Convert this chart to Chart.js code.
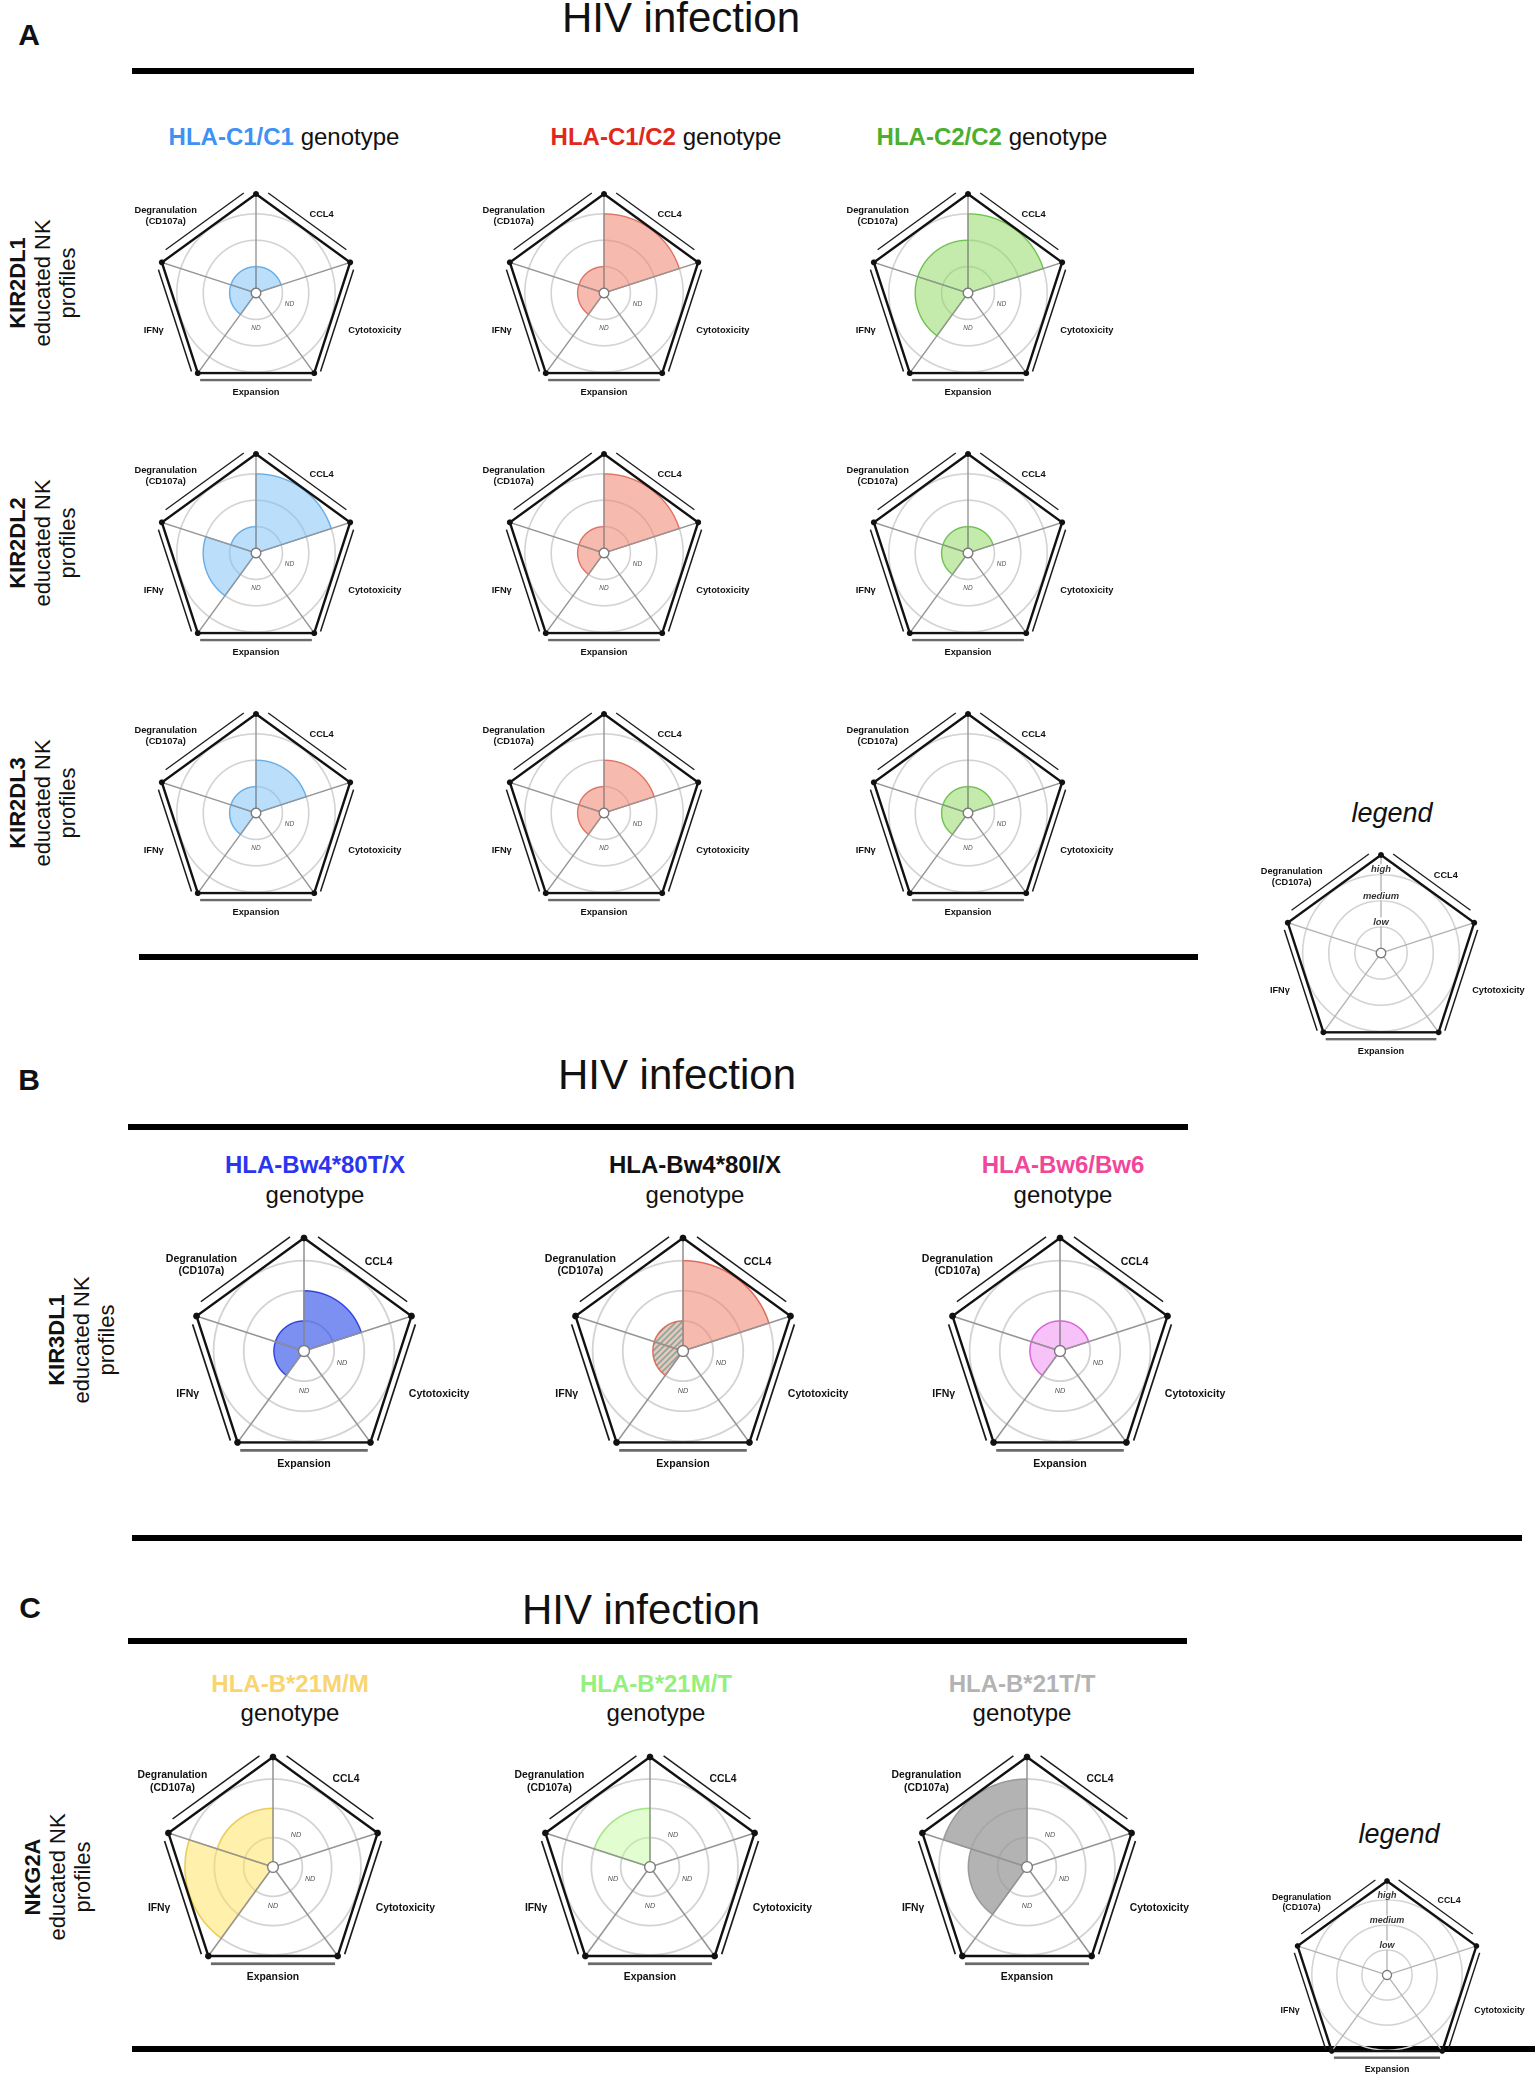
<!DOCTYPE html>
<html>
<head>
<meta charset="utf-8">
<script src="https://cdn.jsdelivr.net/npm/chart.js@4.4.1/dist/chart.umd.min.js"></script>
<style>
  html, body { margin: 0; padding: 0; background: #fff; }
  #page { position: relative; width: 1535px; height: 2077px; overflow: hidden;
          font-family: "Liberation Sans", Arial, Helvetica, sans-serif; color: #111; }
  .t { position: absolute; white-space: nowrap; line-height: 1; transform: translate(-50%, -50%); }
  .rule { position: absolute; height: 6px; background: #000; }
  .panel { position: absolute; }
  .panel canvas { position: absolute; left: 0; top: 0; }
</style>
</head>
<body>
<div id="page"></div>
<script>
// Axes clockwise from the top spoke; each wedge fills the sector that follows its spoke
const axes = ['CCL4', 'Cytotoxicity', 'Expansion', 'IFNγ', 'Degranulation (CD107a)'];
const levels = ['ND', 'low', 'medium', 'high'];   // 0 = not detected
const frame = [3.75, 3.75, 3.75, 3.75, 3.75];     // outer pentagon, just past "high"
const hub = [0, 0, 0, 0, 0];

// A: KIR2DL1/2/3 educated NK, by HLA-C genotype (C1/C1, C1/C2, C2/C2)
const genotypesA = ['HLA-C1/C1', 'HLA-C1/C2', 'HLA-C2/C2'];
const receptorsA = ['KIR2DL1', 'KIR2DL2', 'KIR2DL3'];
const kir2dl1 = [[1, 0, 0, 1, 1], [3, 0, 0, 1, 1], [3, 0, 0, 2, 2]];
const kir2dl2 = [[3, 0, 0, 2, 1], [3, 0, 0, 1, 1], [1, 0, 0, 1, 1]];
const kir2dl3 = [[2, 0, 0, 1, 1], [2, 0, 0, 1, 1], [1, 0, 0, 1, 1]];

// B: KIR3DL1 educated NK, by HLA-Bw4/Bw6 genotype
const genotypesB = ['HLA-Bw4*80T/X', 'HLA-Bw4*80I/X', 'HLA-Bw6/Bw6'];
const kir3dl1 = [[2, 0, 0, 1, 1], [3, 0, 0, 1, 1], [1, 0, 0, 1, 1]];
const hatchedB = [[], [3, 4], []];   // striped sectors of the 80I/X profile

// C: NKG2A educated NK, by HLA-B -21 genotype
const genotypesC = ['HLA-B*21M/M', 'HLA-B*21M/T', 'HLA-B*21T/T'];
const nkg2a = [[0, 0, 0, 3, 2], [0, 0, 0, 0, 2], [0, 0, 0, 2, 3]];

// colours
const lookA = [
  { title: '#3f91f3', fill: 'rgba(120,190,245,0.5)', line: 'rgba(85,170,240,0.9)' },
  { title: '#e0291c', fill: 'rgba(238,130,110,0.55)', line: 'rgba(232,100,80,0.9)' },
  { title: '#4caf2f', fill: 'rgba(140,215,90,0.5)', line: 'rgba(95,195,60,0.9)' }
];
const lookB = [
  { title: '#2b35f0', fill: 'rgba(35,70,230,0.6)', line: 'rgba(35,55,232,0.95)' },
  { title: '#111111', fill: 'rgba(238,130,110,0.55)', line: 'rgba(232,90,70,0.9)' },
  { title: '#f0479a', fill: 'rgba(238,120,238,0.45)', line: 'rgba(225,80,225,0.9)' }
];
const lookC = [
  { title: '#f8d570', fill: 'rgba(255,225,90,0.5)', line: 'rgba(242,205,60,0.95)' },
  { title: '#94f07c', fill: 'rgba(190,250,150,0.45)', line: 'rgba(150,238,115,0.95)' },
  { title: '#b3b3b3', fill: 'rgba(150,150,150,0.72)', line: 'rgba(145,145,145,0.8)' }
];

// pentagon edge widths and the bracket strokes beside each edge: [offset, t0, t1, width, colour]
const edgeWidth = [2, 2.6, 3.2, 2.6, 2];
const bracketStyle = [
  [[8, 0.08, 0.91, 1.3, '#1a1a1a']],
  [[5.5, 0.05, 0.97, 1.5, '#1a1a1a']],
  [[7, 0.02, 0.98, 2.4, '#6a6a6a']],
  [[5.5, 0.03, 0.95, 1.5, '#1a1a1a']],
  [[8, 0.09, 0.92, 1.3, '#1a1a1a']]
];

const page = document.getElementById('page');

function text(x, y, html, css) {
  const d = document.createElement('div');
  d.className = 't';
  d.innerHTML = html;
  d.style.left = x + 'px';
  d.style.top = y + 'px';
  Object.assign(d.style, css || {});
  page.appendChild(d);
  return d;
}

function rule(x0, x1, y) {
  const d = document.createElement('div');
  d.className = 'rule';
  d.style.left = x0 + 'px';
  d.style.width = (x1 - x0) + 'px';
  d.style.top = (y - 3) + 'px';
  page.appendChild(d);
}

function stripes() {
  const c = document.createElement('canvas');
  c.width = 6; c.height = 6;
  const g = c.getContext('2d');
  g.fillStyle = 'rgba(240,160,140,0.6)';
  g.fillRect(0, 0, 6, 6);
  g.strokeStyle = 'rgba(70,160,150,0.95)';
  g.lineWidth = 1.3;
  g.beginPath();
  g.moveTo(-1, 7); g.lineTo(7, -1);
  g.moveTo(-1, 1); g.lineTo(1, -1);
  g.moveTo(5, 7); g.lineTo(7, 5);
  g.stroke();
  return g.createPattern(c, 'repeat');
}

// brackets drawn beside the pentagon edges
const edgeMarks = {
  id: 'edgeMarks',
  afterDatasetsDraw(chart) {
    const s = chart.scales.r, g = chart.ctx, n = axes.length;
    const k = s.drawingArea / 99;
    g.save();
    for (let i = 0; i < n; i++) {
      const a = s.getPointPositionForValue(i, frame[i]);
      const b = s.getPointPositionForValue((i + 1) % n, frame[(i + 1) % n]);
      const mx = (a.x + b.x) / 2 - s.xCenter, my = (a.y + b.y) / 2 - s.yCenter;
      const ml = Math.hypot(mx, my), nx = mx / ml, ny = my / ml;
      bracketStyle[i].forEach(([off, t0, t1, w, col]) => {
        g.beginPath();
        g.strokeStyle = col;
        g.lineWidth = w * k;
        g.moveTo(a.x + (b.x - a.x) * t0 + nx * off * k, a.y + (b.y - a.y) * t0 + ny * off * k);
        g.lineTo(a.x + (b.x - a.x) * t1 + nx * off * k, a.y + (b.y - a.y) * t1 + ny * off * k);
        g.stroke();
      });
    }
    g.restore();
  }
};

// unit = pixels per level (low / medium / high rings)
function panel(cx, cy, unit, values, look, hatched, isLegend) {
  const R = Math.round(unit * frame[0]);
  const L = unit * 3.6;            // reference radius for label placement
  const pad = Math.round(R * 0.25);
  const size = 2 * (R + pad);
  const ox = cx - R - pad, oy = cy - R - pad;
  const box = document.createElement('div');
  box.className = 'panel';
  box.style.left = ox + 'px';
  box.style.top = oy + 'px';
  box.style.width = size + 'px';
  box.style.height = size + 'px';
  page.appendChild(box);
  const mk = () => {
    const c = document.createElement('canvas');
    c.width = size; c.height = size;
    box.appendChild(c);
    return c;
  };
  const cPolar = mk(), cFrame = mk();
  const k = L / 95;
  const base = {
    responsive: false, animation: false, events: [], devicePixelRatio: 2,
    layout: { padding: pad },
    plugins: { legend: { display: false }, tooltip: { enabled: false } }
  };
  const rBase = { min: 0, max: frame[0], ticks: { display: false, stepSize: 1 }, pointLabels: { display: false } };

  new Chart(cPolar, {
    type: 'polarArea',
    data: {
      labels: axes,
      datasets: [{
        data: values,
        backgroundColor: values.map((v, i) => hatched.includes(i) ? stripes() : look.fill),
        borderColor: look.line,
        borderWidth: 1.2
      }]
    },
    options: {
      ...base,
      scales: { r: { ...rBase, angleLines: { display: false },
        grid: { circular: true, lineWidth: 1.6 * k,
                color: c => (c.tick && c.tick.value > 3) ? 'rgba(0,0,0,0)' : '#d3d3d3' } } }
    }
  });

  const top = new Chart(cFrame, {
    type: 'radar',
    data: {
      labels: axes,
      datasets: [
        { data: hub, showLine: false, pointRadius: [4.8 * k, 0, 0, 0, 0],
          pointBackgroundColor: '#fff', pointBorderColor: '#7a7a7a', pointBorderWidth: 1.3, clip: false },
        { data: frame, borderColor: '#111', borderWidth: 2.4, fill: false, backgroundColor: 'rgba(0,0,0,0)',
          pointRadius: 3 * k, pointBackgroundColor: '#111', pointBorderWidth: 0, clip: false,
          segment: { borderWidth: c => edgeWidth[c.p0DataIndex] * k } }
      ]
    },
    options: {
      ...base,
      scales: { r: { ...rBase, grid: { display: false },
        angleLines: { display: true, color: isLegend ? '#b4b4b4' : '#959595', lineWidth: 1.4 * k } } }
    },
    plugins: [edgeMarks]
  });

  const s = top.scales.r;
  const X = ox + s.xCenter, Y = oy + s.yCenter;
  const fs = 0.098 * L;
  const lab = { fontSize: fs + 'px', fontWeight: 'bold', lineHeight: '1.18', textAlign: 'center' };
  text(X - 0.95 * L, Y - 0.81 * L, 'Degranulation<br>(CD107a)', lab);
  text(X + 0.69 * L, Y - 0.83 * L, axes[0], lab);
  text(X + 0.97 * L, Y + 0.39 * L, axes[1], { ...lab, transform: 'translate(0,-50%)' });
  text(X, Y + 1.04 * L, axes[2], lab);
  text(X - 0.97 * L, Y + 0.39 * L, axes[3], { ...lab, transform: 'translate(-100%,-50%)' });

  if (isLegend) {
    [1, 2, 3].forEach(lv => {
      const p = s.getPointPosition(0, s.getDistanceFromCenterForValue(lv + 0.2));
      text(ox + p.x, oy + p.y, levels[lv], { fontSize: (0.1 * L) + 'px', fontStyle: 'italic',
        fontWeight: 'bold', color: '#333', background: '#fff', padding: '0 1px' });
    });
  } else {
    values.forEach((v, i) => {
      if (v !== 0) return;
      const p = s.getPointPosition(i, s.getDistanceFromCenterForValue(1.33), Math.PI / axes.length);
      text(ox + p.x, oy + p.y, levels[0], { fontSize: (0.068 * L) + 'px', fontStyle: 'italic', color: '#555' });
    });
  }
}

function heading(x, y, letter, hx, hy) {
  text(x, y, letter, { fontSize: '30px', fontWeight: 'bold' });
  text(hx, hy, 'HIV infection', { fontSize: '42px' });
}

function rowLabel(x, y, name) {
  text(x, y, '<b>' + name + '</b><br>educated NK<br>profiles',
       { fontSize: '22px', lineHeight: '25px', textAlign: 'center',
         transform: 'translate(-50%,-50%) rotate(-90deg)' });
}

// ---- Panel A ----
heading(29, 35, 'A', 681, 18);
rule(132, 1194, 71);
rule(139, 1198, 957);
const titleXA = [284, 666, 992];
genotypesA.forEach((g, j) => text(titleXA[j], 137,
  '<b style="color:' + lookA[j].title + '">' + g + '</b> genotype', { fontSize: '24px' }));
const colXA = [256, 604, 968], rowYA = [293, 553, 813];
[kir2dl1, kir2dl2, kir2dl3].forEach((row, r) => {
  rowLabel(42, rowYA[r] - 10, receptorsA[r]);
  row.forEach((vals, j) => panel(colXA[j], rowYA[r], 26.4, vals, lookA[j], [], false));
});
text(1392, 813, 'legend', { fontSize: '27px', fontStyle: 'italic' });
panel(1381, 953, 26.1, hub, lookA[0], [], true);

// ---- Panel B ----
heading(29, 1080, 'B', 677, 1075);
rule(128, 1188, 1127);
rule(132, 1522, 1538);
const titleXB = [315, 695, 1063];
genotypesB.forEach((g, j) => {
  text(titleXB[j], 1165, '<b style="color:' + lookB[j].title + '">' + g + '</b>', { fontSize: '24px' });
  text(titleXB[j], 1195, 'genotype', { fontSize: '24px' });
});
rowLabel(81, 1340, 'KIR3DL1');
const colXB = [304, 683, 1060];
kir3dl1.forEach((vals, j) => panel(colXB[j], 1351, 30, vals, lookB[j], hatchedB[j], false));

// ---- Panel C ----
heading(30, 1608, 'C', 641, 1610);
rule(128, 1187, 1641);
rule(132, 1535, 2049);
const titleXC = [290, 656, 1022];
genotypesC.forEach((g, j) => {
  text(titleXC[j], 1684, '<b style="color:' + lookC[j].title + '">' + g + '</b>', { fontSize: '24px' });
  text(titleXC[j], 1713, 'genotype', { fontSize: '24px' });
});
rowLabel(57, 1877, 'NKG2A');
const colXC = [273, 650, 1027];
nkg2a.forEach((vals, j) => panel(colXC[j], 1867, 29.4, vals, lookC[j], [], false));
text(1399, 1834, 'legend', { fontSize: '27px', fontStyle: 'italic' });
panel(1387, 1975, 25, hub, lookC[0], [], true);
</script>
</body>
</html>
